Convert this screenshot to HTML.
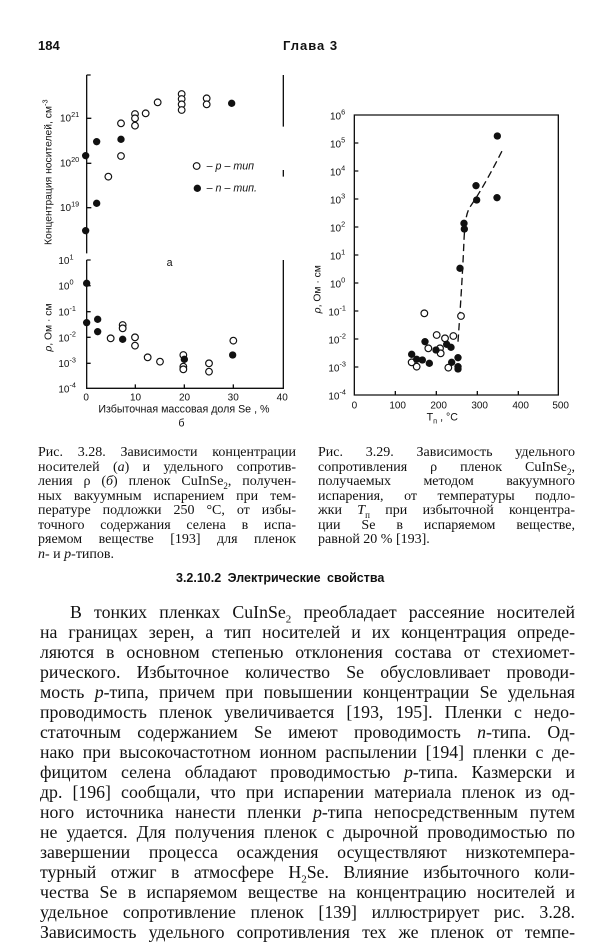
<!DOCTYPE html>
<html><head><meta charset="utf-8">
<style>
body{margin:0;width:615px;height:950px;background:#fff;position:relative;overflow:hidden;color:#111;font-family:"Liberation Serif",serif}
.a{position:absolute}
.ln{position:absolute;left:40px;width:535px;font-size:17.8px;line-height:20px;text-align:justify;text-align-last:justify;white-space:nowrap}
.cap{position:absolute;font-size:14px;line-height:14.5px;text-align:justify}
.cap div{text-align:justify;text-align-last:justify;white-space:nowrap;height:14.5px}
svg text{font-family:"Liberation Sans",sans-serif;fill:#111}
sub{line-height:0}
</style></head><body>
<div class="a" style="left:38px;top:38px;font:bold 13px 'Liberation Sans',sans-serif">184</div>
<div class="a" style="left:283px;top:38px;font:bold 13px 'Liberation Sans',sans-serif;letter-spacing:1px">Глава 3</div>

<svg class="a" style="left:0;top:0" width="615" height="450" viewBox="0 0 615 450">
<g transform="translate(20,60) scale(0.33333)" stroke="#111" stroke-width="4" fill="none">
 <path d="M200,45 V580 M200,45 H212 M790,45 V200 M790,330 V350"/>
 <path d="M200,175 H214 M200,310 H214 M200,443 H214"/>
 <path d="M200,600 V985 H790 V600 M200,600 H212"/>
 <path d="M200,677 H212 M200,755 H212 M200,832 H212 M200,910 H212 M346,985 V973 M493,985 V973 M640,985 V973"/>
 <g fill="#fff" stroke-width="3.5">
 <circle cx="265" cy="350" r="10"/><circle cx="303" cy="190" r="10"/><circle cx="303" cy="288" r="10"/><circle cx="345" cy="162" r="10"/><circle cx="345" cy="175" r="10"/><circle cx="345" cy="197" r="10"/><circle cx="377" cy="160" r="10"/><circle cx="413" cy="127" r="10"/><circle cx="485" cy="102" r="10"/><circle cx="485" cy="117" r="10"/><circle cx="485" cy="133" r="10"/><circle cx="485" cy="150" r="10"/><circle cx="560" cy="115" r="10"/><circle cx="560" cy="133" r="10"/><circle cx="530" cy="318" r="10"/>
 <circle cx="272" cy="835" r="10"/><circle cx="308" cy="795" r="10"/><circle cx="308" cy="805" r="10"/><circle cx="345" cy="832" r="10"/><circle cx="345" cy="857" r="10"/><circle cx="383" cy="892" r="10"/><circle cx="420" cy="905" r="10"/><circle cx="490" cy="885" r="10"/><circle cx="490" cy="920" r="10"/><circle cx="490" cy="928" r="10"/><circle cx="567" cy="910" r="10"/><circle cx="567" cy="935" r="10"/><circle cx="640" cy="842" r="10"/>
 </g>
 <g fill="#111" stroke="none">
 <circle cx="197" cy="287" r="11"/><circle cx="230" cy="245" r="11"/><circle cx="230" cy="430" r="11"/><circle cx="197" cy="512" r="11"/><circle cx="303" cy="238" r="11"/><circle cx="635" cy="130" r="11"/><circle cx="532" cy="385" r="11"/>
 <circle cx="200" cy="670" r="11"/><circle cx="200" cy="788" r="11"/><circle cx="233" cy="778" r="11"/><circle cx="233" cy="815" r="11"/><circle cx="308" cy="838" r="11"/><circle cx="493" cy="898" r="11"/><circle cx="638" cy="885" r="11"/>
 </g>
 <g stroke="none" font-size="30">
 <text x="120" y="185">10<tspan dy="-14" font-size="22">21</tspan></text>
 <text x="120" y="320">10<tspan dy="-14" font-size="22">20</tspan></text>
 <text x="120" y="453">10<tspan dy="-14" font-size="22">19</tspan></text>
 <text x="560" y="328" font-size="32">– <tspan font-style="italic">p</tspan> – <tspan font-style="italic">тип</tspan></text>
 <text x="560" y="395" font-size="32">– <tspan font-style="italic">n</tspan> – <tspan font-style="italic">тип.</tspan></text>
 <text x="115" y="612">10<tspan dy="-14" font-size="22">1</tspan></text>
 <text x="115" y="688">10<tspan dy="-14" font-size="22">0</tspan></text>
 <text x="115" y="767">10<tspan dy="-14" font-size="22">-1</tspan></text>
 <text x="115" y="844">10<tspan dy="-14" font-size="22">-2</tspan></text>
 <text x="115" y="921">10<tspan dy="-14" font-size="22">-3</tspan></text>
 <text x="115" y="997">10<tspan dy="-14" font-size="22">-4</tspan></text>
 <text x="190" y="1022">0</text><text x="330" y="1022">10</text><text x="477" y="1022">20</text><text x="623" y="1022">30</text><text x="770" y="1022">40</text>
 <text x="235" y="1058" font-size="32">Избыточная  массовая  доля  Se , %</text>
 <text x="475" y="1100" font-size="32">б</text>
 <text x="440" y="618" font-size="32">а</text>
 <text transform="translate(95,555) rotate(-90)" font-size="31">Концентрация  носителей, см<tspan dy="-12" font-size="22">-3</tspan></text>
 <text transform="translate(95,875) rotate(-90)" font-size="31"><tspan font-style="italic">ρ</tspan>, Ом · см</text>
 </g>
</g>

<g transform="translate(300,100) scale(0.33333)" stroke="#111" stroke-width="4" fill="none">
 <path d="M163,45 H775 V885 H163 Z"/>
 <path d="M163,129 H175 M163,213 H175 M163,297 H175 M163,381 H175 M163,465 H175 M163,549 H175 M163,633 H175 M163,717 H175 M163,801 H175 M286,885 V873 M409,885 V873 M532,885 V873 M655,885 V873"/>
 <path d="M474,725 C480,640 488,520 492,420 C495,360 500,335 512,318 C545,270 580,205 610,145" stroke-dasharray="22,12"/>
 <g fill="#fff" stroke-width="3.5">
 <circle cx="335" cy="787" r="10"/><circle cx="350" cy="800" r="10"/><circle cx="373" cy="640" r="10"/><circle cx="385" cy="745" r="10"/><circle cx="410" cy="705" r="10"/><circle cx="420" cy="745" r="10"/><circle cx="422" cy="760" r="10"/><circle cx="435" cy="715" r="10"/><circle cx="445" cy="803" r="10"/><circle cx="460" cy="708" r="10"/><circle cx="483" cy="648" r="10"/>
 </g>
 <g fill="#111" stroke="none">
 <circle cx="335" cy="763" r="11"/><circle cx="350" cy="778" r="11"/><circle cx="367" cy="780" r="11"/><circle cx="388" cy="790" r="11"/><circle cx="375" cy="725" r="11"/><circle cx="408" cy="750" r="11"/><circle cx="440" cy="733" r="11"/><circle cx="453" cy="742" r="11"/><circle cx="455" cy="787" r="11"/><circle cx="474" cy="773" r="11"/><circle cx="474" cy="800" r="11"/><circle cx="474" cy="807" r="11"/><circle cx="480" cy="505" r="11"/><circle cx="492" cy="370" r="11"/><circle cx="493" cy="387" r="11"/><circle cx="528" cy="257" r="11"/><circle cx="530" cy="300" r="11"/><circle cx="592" cy="108" r="11"/><circle cx="591" cy="293" r="11"/>
 </g>
 <g stroke="none" font-size="30">
 <text x="90" y="58">10<tspan dy="-14" font-size="22">6</tspan></text>
 <text x="90" y="142">10<tspan dy="-14" font-size="22">5</tspan></text>
 <text x="90" y="226">10<tspan dy="-14" font-size="22">4</tspan></text>
 <text x="90" y="310">10<tspan dy="-14" font-size="22">3</tspan></text>
 <text x="90" y="394">10<tspan dy="-14" font-size="22">2</tspan></text>
 <text x="90" y="478">10<tspan dy="-14" font-size="22">1</tspan></text>
 <text x="90" y="562">10<tspan dy="-14" font-size="22">0</tspan></text>
 <text x="85" y="646">10<tspan dy="-14" font-size="22">-1</tspan></text>
 <text x="85" y="730">10<tspan dy="-14" font-size="22">-2</tspan></text>
 <text x="85" y="814">10<tspan dy="-14" font-size="22">-3</tspan></text>
 <text x="85" y="898">10<tspan dy="-14" font-size="22">-4</tspan></text>
 <text x="155" y="925">0</text><text x="268" y="925">100</text><text x="391" y="925">200</text><text x="514" y="925">300</text><text x="637" y="925">400</text><text x="757" y="925">500</text>
 <text x="380" y="962" font-size="32">T<tspan dy="8" font-size="22">п</tspan><tspan dy="-8"> , °C</tspan></text>
 <text transform="translate(62,640) rotate(-90)" font-size="31"><tspan font-style="italic">ρ</tspan>, Ом · см</text>
 </g>
</g>
</svg>

<div class="cap" style="left:38px;top:446px;width:258px">
<div>Рис. 3.28. Зависимости концентрации</div>
<div>носителей (<i>а</i>) и удельного сопротив-</div>
<div>ления ρ (<i>б</i>) пленок CuInSe<sub style="font-size:9px">2</sub>, получен-</div>
<div>ных вакуумным испарением при тем-</div>
<div>пературе подложки 250 °C, от избы-</div>
<div>точного содержания селена в испа-</div>
<div>ряемом веществе [193] для пленок</div>
<div style="text-align-last:left"><i>n</i>- и <i>p</i>-типов.</div>
</div>
<div class="cap" style="left:318px;top:446px;width:257px">
<div>Рис. 3.29. Зависимость удельного</div>
<div>сопротивления ρ пленок CuInSe<sub style="font-size:9px">2</sub>,</div>
<div>получаемых методом вакуумного</div>
<div>испарения, от температуры подло-</div>
<div>жки <i>T</i><sub style="font-size:9px">п</sub> при избыточной концентра-</div>
<div>ции Se в испаряемом веществе,</div>
<div style="text-align-last:left">равной 20 % [193].</div>
</div>

<div class="a" style="left:176px;top:571px;font:bold 12.5px 'Liberation Sans',sans-serif;word-spacing:3px">3.2.10.2 Электрические свойства</div>

<div class="ln" style="top:602px;left:70px;width:505px">В тонких пленках CuInSe<sub style="font-size:11px">2</sub> преобладает рассеяние носителей</div>
<div class="ln" style="top:622px">на границах зерен, а тип носителей и их концентрация опреде-</div>
<div class="ln" style="top:642px">ляются в основном степенью отклонения состава от стехиомет-</div>
<div class="ln" style="top:662px">рического. Избыточное количество Se обусловливает проводи-</div>
<div class="ln" style="top:682px">мость <i>p</i>-типа, причем при повышении концентрации Se удельная</div>
<div class="ln" style="top:702px">проводимость пленок увеличивается [193, 195]. Пленки с недо-</div>
<div class="ln" style="top:722px">статочным содержанием Se имеют проводимость <i>n</i>-типа. Од-</div>
<div class="ln" style="top:742px">нако при высокочастотном ионном распылении [194] пленки с де-</div>
<div class="ln" style="top:762px">фицитом селена обладают проводимостью <i>p</i>-типа. Казмерски и</div>
<div class="ln" style="top:782px">др. [196] сообщали, что при испарении материала пленок из од-</div>
<div class="ln" style="top:802px">ного источника нанести пленки <i>p</i>-типа непосредственным путем</div>
<div class="ln" style="top:822px">не удается. Для получения пленок с дырочной проводимостью по</div>
<div class="ln" style="top:842px">завершении процесса осаждения осуществляют низкотемпера-</div>
<div class="ln" style="top:862px">турный отжиг в атмосфере H<sub style="font-size:11px">2</sub>Se. Влияние избыточного коли-</div>
<div class="ln" style="top:882px">чества Se в испаряемом веществе на концентрацию носителей и</div>
<div class="ln" style="top:902px">удельное сопротивление пленок [139] иллюстрирует рис. 3.28.</div>
<div class="ln" style="top:922px">Зависимость удельного сопротивления тех же пленок от темпе-</div>
</body></html>
